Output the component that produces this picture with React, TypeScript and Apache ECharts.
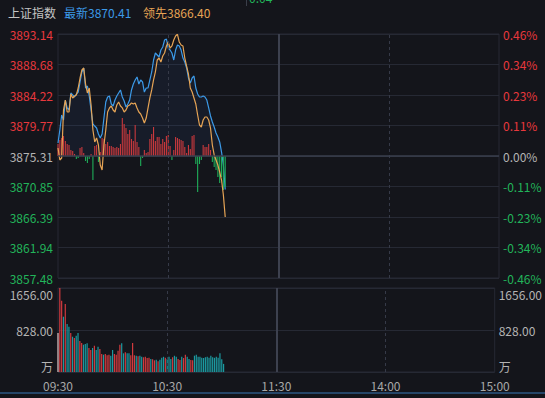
import React, { useEffect, useRef } from 'react';
import * as echarts from 'echarts';

const prevClose = 3875.31;
const priceMin = 3857.48;
const priceMax = 3893.14;
const priceStep = 4.4575;
const volMax = 1656;

const leftTickLabels = ['3857.48', '3861.94', '3866.39', '3870.85', '3875.31', '3879.77', '3884.22', '3888.68', '3893.14'];
const rightTickLabels = ['-0.46%', '-0.34%', '-0.23%', '-0.11%', '0.00%', '0.11%', '0.23%', '0.34%', '0.46%'];
const volTickLabels = ['万', '828.00', '1656.00'];
const timeTickLabels = ['09:30', '10:30', '11:30', '14:00', '15:00'];

const latestPrice = [
  3877.21, 3879.11, 3881.30, 3880.57, 3883.49, 3882.33, 3882.03, 3884.52, 3884.23, 3883.93,
  3884.37, 3884.66, 3886.13, 3887.59, 3888.17, 3885.25, 3885.54, 3884.08, 3882.03, 3879.99,
  3879.69, 3879.40, 3878.53, 3877.94, 3878.53, 3880.86, 3883.20, 3883.93, 3884.08, 3882.91,
  3882.62, 3883.49, 3884.08, 3884.52, 3884.96, 3883.93, 3883.35, 3882.47, 3882.91, 3883.49,
  3884.96, 3885.83, 3886.42, 3886.86, 3885.83, 3886.42, 3886.13, 3884.66, 3885.25, 3885.25,
  3886.42, 3887.59, 3889.34, 3890.36, 3890.07, 3889.78, 3890.80, 3891.24, 3892.26, 3892.41,
  3891.09, 3890.80, 3890.36, 3889.34, 3890.80, 3891.53, 3891.39, 3890.80, 3889.63, 3889.05,
  3888.17, 3886.71, 3885.98, 3886.71, 3887.00, 3885.25, 3884.37, 3883.93, 3883.93, 3884.08,
  3883.93, 3883.49, 3882.33, 3881.16, 3880.28, 3879.55, 3878.67, 3878.09, 3877.36, 3875.89,
  3874.00, 3870.41,
];

const leadPrice = [
  3876.48, 3874.73, 3875.02, 3882.03, 3883.49, 3881.74, 3881.74, 3884.37, 3883.79, 3884.08,
  3884.23, 3885.25, 3886.71, 3887.88, 3888.17, 3885.83, 3884.52, 3885.25, 3882.76, 3879.11,
  3877.36, 3877.94, 3876.92, 3873.99, 3873.26, 3876.92, 3879.11, 3881.74, 3882.33, 3882.62,
  3882.03, 3881.74, 3882.76, 3883.20, 3882.62, 3882.33, 3881.74, 3882.03, 3882.62, 3882.76,
  3883.06, 3882.91, 3883.06, 3882.33, 3881.74, 3881.45, 3880.86, 3880.13, 3880.86, 3882.33,
  3883.79, 3884.96, 3886.42, 3887.59, 3889.34, 3889.63, 3889.05, 3889.93, 3890.36, 3891.39,
  3891.97, 3891.09, 3891.39, 3892.26, 3892.85, 3893.10, 3891.97, 3891.53, 3891.39, 3889.63,
  3888.46, 3887.29, 3885.25, 3884.66, 3883.79, 3882.91, 3881.30, 3879.84, 3879.55, 3880.57,
  3881.01, 3881.01, 3880.57, 3879.40, 3876.92, 3875.46, 3874.73, 3873.99, 3872.97, 3871.80,
  3869.61, 3866.40,
];

const buyPower = [
  12, 16, 18, 20, 15, 12, 11, 6, 5, 2,
  -3, -2, 8, 9, 3, -5, -7, -3, 2, -24,
  10, 11, -6, 4, 18, 17, 12, 14, 10, 10,
  9, 8, 9, 8, 12, 38, 32, 28, 22, 26,
  17, 15, 31, 14, 9, -10, -2, 6, 3, 4,
  17, 22, 29, 15, 19, 19, 12, 17, 14, 20,
  21, 10, -4, 6, 19, 18, 17, 16, 15, 9,
  3, 11, 7, 20, 21, -8, -36, -8, -4, 11,
  9, 9, 12, 6, -6, -11, -14, -21, -27, -21,
  -34, -31,
];

const volume = [
  770, 1656, 1405, 1090, 1340, 946, 893, 769, 696, 670,
  716, 769, 611, 572, 538, 552, 565, 473, 434, 473,
  519, 434, 499, 453, 355, 341, 355, 329, 341, 322,
  434, 355, 341, 420, 538, 565, 368, 388, 368, 368,
  330, 572, 330, 320, 310, 320, 300, 290, 300, 276,
  280, 256, 250, 230, 240, 210, 240, 280, 300, 280,
  256, 300, 256, 290, 320, 300, 256, 237, 300, 276,
  342, 300, 256, 237, 230, 322, 342, 300, 300, 280,
  276, 290, 300, 280, 322, 290, 280, 300, 280, 368,
  250, 160,
];

// u = up (red), d = down (teal), n = neutral (auction)
const volDir = [
  'n', 'u', 'u', 'd', 'u', 'd', 'd', 'u', 'd', 'u',
  'd', 'd', 'u', 'u', 'd', 'd', 'd', 'u', 'u', 'd',
  'u', 'd', 'd', 'u', 'u', 'd', 'u', 'u', 'u', 'd',
  'd', 'u', 'u', 'u', 'u', 'd', 'd', 'u', 'd', 'd',
  'u', 'u', 'u', 'd', 'u', 'd', 'd', 'u', 'u', 'u',
  'u', 'd', 'u', 'u', 'd', 'u', 'd', 'd', 'd', 'u',
  'd', 'd', 'd', 'u', 'd', 'd', 'u', 'u', 'd', 'u',
  'u', 'd', 'd', 'u', 'u', 'd', 'd', 'd', 'd', 'd',
  'd', 'd', 'd', 'd', 'd', 'd', 'd', 'd', 'd', 'd',
  'd', 'd',
];

const BG = '#14151b';
const GRID = '#262934';
const RED = '#e8383d';
const GREEN = '#22b45a';
const GREY = '#b4b4b4';
const BLUE = '#3c9ae8';
const ORANGE = '#e6a455';
const FONT = '"Noto Sans CJK SC", "Noto Sans", sans-serif';

export default function App() {
  const ref = useRef<HTMLDivElement>(null);

  useEffect(() => {
    document.body.style.margin = '0';
    document.body.style.background = BG;
    const chart = echarts.init(ref.current!, null, { renderer: 'svg' });

    const tickColor = (_v: any, i: number) => (i > 4 ? RED : i < 4 ? GREEN : GREY);

    const option: any = {
      animation: false,
      backgroundColor: BG,
      textStyle: { fontFamily: FONT },
      grid: [
        { left: 58, right: 46, top: 34, height: 244, show: true, borderColor: GRID, borderWidth: 1 },
        { left: 58, right: 46, top: 288, height: 84, show: true, borderColor: GRID, borderWidth: 1 },
      ],
      xAxis: [
        {
          type: 'value', gridIndex: 0, min: 0, max: 240, interval: 60,
          axisLine: { show: false }, axisTick: { show: false }, axisLabel: { show: false }, splitLine: { show: false },
        },
        {
          type: 'value', gridIndex: 1, min: 0, max: 240, interval: 60,
          axisLine: { show: false }, axisTick: { show: false }, splitLine: { show: false },
          axisLabel: {
            color: '#a8a8a8', fontSize: 12, fontFamily: FONT, margin: 7,
            formatter: (v: number) => timeTickLabels[Math.round(v / 60)] ?? '',
          },
        },
      ],
      yAxis: [
        {
          type: 'value', gridIndex: 0, position: 'left', min: priceMin, max: priceMax, interval: priceStep,
          axisLine: { show: false }, axisTick: { show: false },
          splitLine: { show: true, lineStyle: { color: GRID, width: 1 } },
          axisLabel: {
            fontSize: 12, fontFamily: FONT, margin: 5, color: tickColor,
            formatter: (_v: number, i: number) => leftTickLabels[i] ?? '',
          },
        },
        {
          type: 'value', gridIndex: 0, position: 'right', min: priceMin, max: priceMax, interval: priceStep,
          axisLine: { show: false }, axisTick: { show: false }, splitLine: { show: false },
          axisLabel: {
            fontSize: 12, fontFamily: FONT, margin: 4, color: tickColor,
            formatter: (_v: number, i: number) => rightTickLabels[i] ?? '',
          },
        },
        {
          type: 'value', gridIndex: 0, min: -122, max: 122, show: false,
          splitLine: { show: false },
        },
        {
          type: 'value', gridIndex: 1, position: 'left', min: 0, max: volMax, interval: volMax / 2,
          axisLine: { show: false }, axisTick: { show: false },
          splitLine: { show: true, lineStyle: { color: GRID, width: 1 } },
          axisLabel: {
            fontSize: 12, fontFamily: FONT, margin: 5, color: GREY,
            verticalAlignMinLabel: 'bottom', verticalAlignMaxLabel: 'top',
            formatter: (_v: number, i: number) => volTickLabels[i] ?? '',
          },
        },
        {
          type: 'value', gridIndex: 1, position: 'right', min: 0, max: volMax, interval: volMax / 2,
          axisLine: { show: false }, axisTick: { show: false }, splitLine: { show: false },
          axisLabel: {
            fontSize: 12, fontFamily: FONT, margin: 4, color: GREY,
            verticalAlignMinLabel: 'bottom', verticalAlignMaxLabel: 'top',
            formatter: (_v: number, i: number) => volTickLabels[i] ?? '',
          },
        },
      ],
      series: [
        {
          type: 'bar', xAxisIndex: 0, yAxisIndex: 2, barWidth: 1.1, silent: true,
          data: buyPower.map((v, i) => ({ value: [i, v], itemStyle: { color: v >= 0 ? '#c9393d' : '#1fae5a' } })),
          markLine: {
            silent: true, symbol: 'none', label: { show: false },
            data: [
              { xAxis: 60, lineStyle: { color: '#363a48', width: 1, type: [3, 3] } },
              { xAxis: 120, lineStyle: { color: '#3d414f', width: 2, type: 'solid' } },
              { xAxis: 180, lineStyle: { color: '#363a48', width: 1, type: [3, 3] } },
            ],
          },
          z: 2,
        },
        {
          type: 'line', xAxisIndex: 0, yAxisIndex: 0, showSymbol: false, silent: true,
          data: latestPrice.map((v, i) => [i, v]),
          lineStyle: { color: BLUE, width: 1.2 },
          areaStyle: {
            origin: prevClose,
            color: 'rgba(50,105,170,0.14)',
          },
          markLine: {
            silent: true, symbol: 'none', label: { show: false },
            data: [{ yAxis: prevClose, lineStyle: { color: '#3a3f4e', width: 1.5, type: 'solid' } }],
          },
          z: 1,
        },
        {
          type: 'line', xAxisIndex: 0, yAxisIndex: 0, showSymbol: false, silent: true,
          data: leadPrice.map((v, i) => [i, v]),
          lineStyle: { color: ORANGE, width: 1.2 },
          z: 3,
        },
        {
          type: 'bar', xAxisIndex: 1, yAxisIndex: 3, barWidth: 1.2, silent: true,
          data: volume.map((v, i) => ({
            value: [i, v],
            itemStyle: { color: volDir[i] === 'u' ? '#d23a3e' : volDir[i] === 'd' ? '#1b9aa0' : '#e2c4c4' },
          })),
          markLine: {
            silent: true, symbol: 'none', label: { show: false },
            data: [
              { xAxis: 60, lineStyle: { color: '#363a48', width: 1, type: [3, 3] } },
              { xAxis: 120, lineStyle: { color: '#3d414f', width: 2, type: 'solid' } },
              { xAxis: 180, lineStyle: { color: '#363a48', width: 1, type: [3, 3] } },
            ],
          },
        },
      ],
      graphic: [
        { type: 'text', left: 8, top: 6, style: { text: '上证指数', fill: '#c4c4c4', fontSize: 12, fontFamily: FONT } },
        { type: 'text', left: 64, top: 6, style: { text: '最新' + latestPrice[latestPrice.length - 1].toFixed(2), fill: BLUE, fontSize: 12, fontFamily: FONT } },
        { type: 'text', left: 143, top: 6, style: { text: '领先' + leadPrice[leadPrice.length - 1].toFixed(2), fill: ORANGE, fontSize: 12, fontFamily: FONT } },
        { type: 'text', x: 249, y: -9, style: { text: '0.04', fill: GREEN, fontSize: 12, fontFamily: FONT } },
        { type: 'rect', shape: { x: 246, y: 0, width: 1, height: 6 }, style: { fill: '#3a3e4a' } },
        { type: 'rect', shape: { x: 0, y: 392, width: 545, height: 2 }, style: { fill: '#264668' } },
      ],
    };

    chart.setOption(option);
    return () => chart.dispose();
  }, []);

  return <div ref={ref} style={{ position: 'fixed', left: 0, top: 0, width: 545, height: 398 }} />;
}
